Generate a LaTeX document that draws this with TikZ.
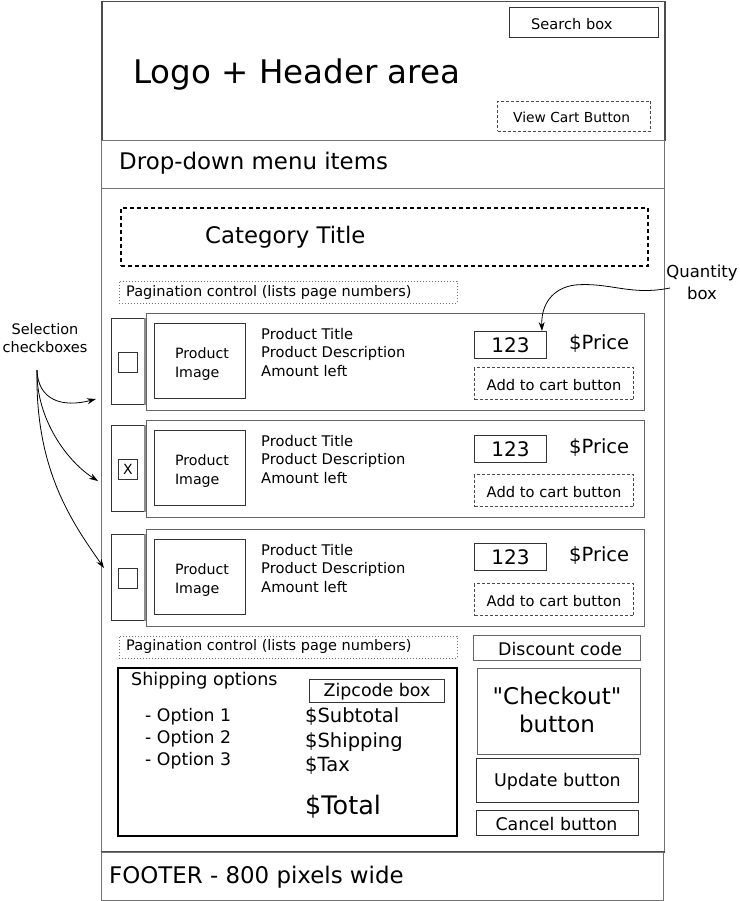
\documentclass[tikz,border=0pt]{standalone}
\usepackage{fontspec}
\setmainfont{DejaVu Sans}[Ligatures=TeXOff]
\usetikzlibrary{arrows.meta,calc}
\newcommand{\fsz}[1]{\fontsize{#1}{#1}\selectfont}
\newcommand{\rect}[6]{\node[#6, anchor=north west, minimum width={(#4)-(#2)}, minimum height={(#5)-(#3)}, inner sep=0pt] (#1) at (#2,#3) {};}
\begin{document}
\begin{tikzpicture}[x=1pt,y=-1pt,
  frame/.style={draw=black!70, line width=1.5pt},
  lightframe/.style={draw=black!55, line width=1pt},
  box/.style={draw=black!80, line width=1pt},
  pbox/.style={draw=black!60, line width=1.3pt},
  thickbox/.style={draw=black, line width=2pt},
  dbox/.style={draw=black!70, line width=1pt, dash pattern=on 3pt off 2pt},
  catbox/.style={draw=black, line width=2pt, dash pattern=on 4pt off 3pt},
  dotbox/.style={draw=black!55, line width=0.8pt, dash pattern=on 1pt off 2pt},
  txt/.style={anchor=west, inner sep=0pt, text=black},
  ctxt/.style={inner sep=0pt, text=black, align=center},
  arr/.style={draw=black, line width=0.8pt, -{Stealth[length=9pt,width=6pt]}}]
\useasboundingbox (0,0) rectangle (739,901);
% page frame
\rect{header}{101}{1}{664}{140}{frame}
\rect{menu}{101}{140}{664}{188}{lightframe}
\rect{content}{101}{188}{664}{851}{lightframe}
\draw[frame] (content.south west) -- (content.south east);
\rect{footer}{101}{852}{663}{900}{lightframe}
% header content
\rect{search}{509}{7}{658}{37}{box}
\node[txt] (searcht) at (531,24) {\fsz{14.6}Search box};
\node[txt] (logo) at (133,75) {\fsz{32.5}Logo + Header area};
\rect{cart}{497}{101}{650}{131}{dbox}
\node[txt] (cartt) at (513,117) {\fsz{13.8}View Cart Button};
\node[txt] (menut) at (119,163) {\fsz{22.9}Drop-down menu items};
% category
\rect{cat}{120}{207}{647}{265}{catbox}
\node[txt] (catt) at (205,237) {\fsz{22.8}Category Title};
\rect{pag1}{119}{281}{457}{303}{dotbox}
\node[txt] (pag1t) at (126,292) {\fsz{14.5}Pagination control (lists page numbers)};
% product rows
\foreach \r/\t/\mk/\qo in {1/313//18, 2/420/X/15, 3/529//14}{
  \rect{col\r}{111}{\t+5}{144}{\t+91}{box}
  \draw[draw=black!45, line width=2pt] (col\r.north east) -- (col\r.south east);
  \rect{chk\r}{118}{\t+39}{137}{\t+59}{box}
  \node[ctxt] (chkt\r) at (chk\r.center) {\fsz{14}\mk};
  \rect{prod\r}{146}{\t}{644}{\t+97}{pbox}
  \rect{img\r}{154}{\t+10}{245}{\t+85}{box}
  \node[ctxt, align=left, text width=54pt, font={\fontsize{14.2}{19}\selectfont}] (imgt\r) at ($(img\r.center)+(2,3)$) {Product\\Image};
  \node[txt] (pt\r) at (261,\t+21) {\fsz{14.7}Product Title};
  \node[txt] (pd\r) at (261,\t+40) {\fsz{14.7}Product Description};
  \node[txt] (pa\r) at (261,\t+58) {\fsz{14.7}Amount left};
  \rect{qty\r}{474}{\t+\qo}{546}{\t+\qo+27}{box}
  \node[ctxt] (qtyt\r) at (qty\r.center) {\fsz{20}123};
  \node[txt] (price\r) at (569,\t+\qo+13) {\fsz{19.5}\$Price};
  \rect{add\r}{474}{\t+54}{633}{\t+86}{dbox}
  \node[ctxt] (addt\r) at ($(add\r.center)+(0,2)$) {\fsz{14.7}Add to cart button};
}
% annotations
\node[ctxt, font={\fontsize{16.5}{22}\selectfont}] (qlabel) at (702,282) {Quantity\\box};
\coordinate (qstart) at (670,288);
\draw[arr] (qstart) .. controls (630,296) and (610,282) .. (575,285)
  .. controls (552,288) and (541,305) .. ($(qty1.north east)+(-5,0)$);
\node[ctxt, font={\fontsize{14.5}{18}\selectfont}] (sel) at (45,338) {Selection\\checkboxes};
\coordinate (s1) at (37,370);
\coordinate (e1) at (96,399);
\coordinate (e2) at (98,481);
\coordinate (e3) at (104,568);
\draw[arr] (s1) .. controls (38,400) and (62,408) .. (e1);
\draw[arr] (s1) .. controls (36,420) and (68,462) .. (e2);
\draw[arr] (s1) .. controls (35,470) and (72,522) .. (e3);
% bottom section
\rect{pag2}{119}{636}{457}{658}{dotbox}
\node[txt] (pag2t) at (126,646) {\fsz{14.5}Pagination control (lists page numbers)};
\rect{disc}{473}{635}{640}{660}{pbox}
\node[ctxt] (disct) at ($(disc.center)+(3,1)$) {\fsz{17.4}Discount code};
\rect{ship}{117}{667}{456}{835}{thickbox}
\node[txt] (shipt) at (131,681) {\fsz{17.5}Shipping options};
\node[txt] (o1) at (145,717) {\fsz{17.3}- Option 1};
\node[txt] (o2) at (145,739) {\fsz{17.3}- Option 2};
\node[txt] (o3) at (145,761) {\fsz{17.3}- Option 3};
\rect{zip}{309}{679}{444}{702}{box}
\node[ctxt] (zipt) at ($(zip.center)+(0,1)$) {\fsz{17.4}Zipcode box};
\node[txt] (sub) at (305,717) {\fsz{19.5}\$Subtotal};
\node[txt] (shp) at (305,742) {\fsz{19.5}\$Shipping};
\node[txt] (tax) at (305,766) {\fsz{19.5}\$Tax};
\node[txt] (tot) at (305,807) {\fsz{25.5}\$Total};
\rect{chk}{477}{668}{640}{754}{pbox}
\node[ctxt, font={\fontsize{23}{28}\selectfont}] (chkt) at (557,710) {"Checkout"\\button};
\rect{upd}{476}{758}{638}{802}{box}
\node[ctxt] (updt) at ($(upd.center)+(0,1)$) {\fsz{17.5}Update button};
\rect{cancel}{476}{810}{638}{835}{box}
\node[ctxt] (cancelt) at ($(cancel.center)+(-1,1)$) {\fsz{17.4}Cancel button};
\node[txt] (foot) at (109,877) {\fsz{22.9}FOOTER - 800 pixels wide};
\end{tikzpicture}
\end{document}
